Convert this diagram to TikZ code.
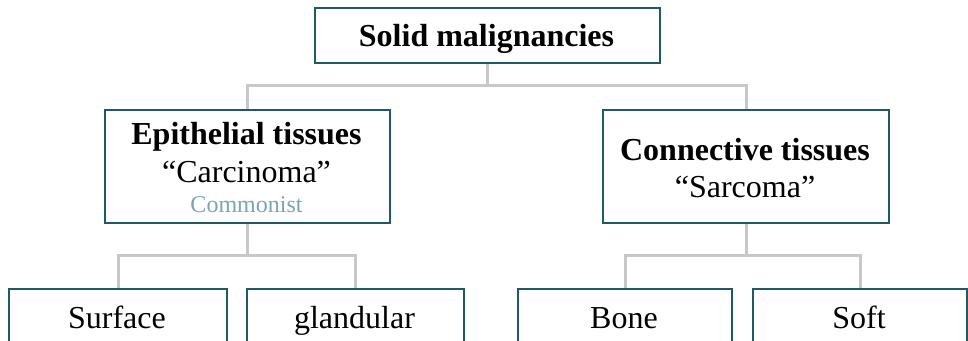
\documentclass[tikz,border=0pt]{standalone}
\usepackage{fontspec}
\setmainfont{Liberation Serif}
\usetikzlibrary{backgrounds}
\definecolor{boxline}{RGB}{31,89,104}
\definecolor{conn}{RGB}{200,200,200}
\definecolor{note}{RGB}{122,166,178}
\begin{document}
\begin{tikzpicture}[x=1pt,y=-1pt,
  box/.style={draw=boxline,line width=2pt,fill=white,inner sep=0pt,anchor=north west},
  lbl/.style={anchor=base,inner sep=0pt,font=\fontsize{32}{38}\selectfont},
  blbl/.style={lbl,font=\fontsize{32}{38}\selectfont\bfseries},
  small/.style={anchor=base,inner sep=0pt,font=\fontsize{24}{28}\selectfont,text=note},
  link/.style={draw=conn,line width=3pt}]
\useasboundingbox (0,0) rectangle (968,340);
\clip (0,0) rectangle (968,340);
% boxes
\node[box,minimum width=345pt,minimum height=55pt] (top) at (314,7) {};
\node[box,minimum width=285pt,minimum height=113pt] (epi) at (104,109) {};
\node[box,minimum width=286pt,minimum height=113pt] (con) at (602,109) {};
\node[box,minimum width=218pt,minimum height=80pt] (sur) at (8,288) {};
\node[box,minimum width=217pt,minimum height=80pt] (gla) at (246,288) {};
\node[box,minimum width=214pt,minimum height=80pt] (bon) at (517,288) {};
\node[box,minimum width=214pt,minimum height=80pt] (sof) at (752,288) {};
% connectors
\begin{scope}[on background layer]
\draw[link] (top.south) -- (top.south |- 0,85) coordinate (t1);
\draw[link] (epi.north) -- (epi.north |- t1) -- (con.north |- t1) -- (con.north);
\draw[link] (epi.south) -- (epi.south |- 0,255) coordinate (e1);
\draw[link] (sur.north) -- (sur.north |- e1) -- (gla.north |- e1) -- (gla.north);
\draw[link] (con.south) -- (con.south |- 0,255) coordinate (c1);
\draw[link] (bon.north) -- (bon.north |- c1) -- (sof.north |- c1) -- (sof.north);
\end{scope}
% texts
\node[blbl] (ttop) at (486.5,46) {Solid malignancies};
\node[blbl] (tepi1) at (246.5,144) {Epithelial tissues};
\node[lbl] (tepi2) at (246.5,182) {“Carcinoma”};
\node[small] (tepi3) at (246.5,212) {Commonist};
\node[blbl] (tcon1) at (745,160) {Connective tissues};
\node[lbl] (tcon2) at (745,197) {“Sarcoma”};
\node[lbl] (tsur) at (117,328) {Surface};
\node[lbl] (tgla) at (354.5,328) {glandular};
\node[lbl] (tbon) at (624,328) {Bone};
\node[lbl] (tsof) at (859,328) {Soft};
\end{tikzpicture}
\end{document}
